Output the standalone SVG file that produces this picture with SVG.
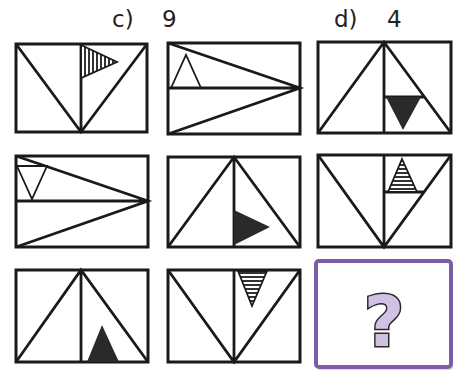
<svg xmlns="http://www.w3.org/2000/svg" width="458" height="371" viewBox="0 0 458 371">
<style>
.f{fill:#fff;stroke:#1a1a1a;stroke-width:3}
.l{fill:none;stroke:#1a1a1a;stroke-width:2.8;stroke-linejoin:miter}
.t{stroke:#1a1a1a;stroke-width:1.8;stroke-linejoin:miter}
.solid{fill:#2a2a2a}
.lbl{font-family:"DejaVu Sans","Liberation Sans",sans-serif;font-size:23px;fill:#222}
</style>
<defs>
<pattern id="vh" width="4" height="4" patternUnits="userSpaceOnUse"><rect width="4" height="4" fill="#fff"/><rect width="2" height="4" fill="#333"/></pattern>
<pattern id="hh" width="4" height="4" patternUnits="userSpaceOnUse"><rect width="4" height="4" fill="#fff"/><rect width="4" height="2" fill="#333"/></pattern>
</defs>
<rect width="458" height="371" fill="#fff"/>
<g id="labels">
<text class="lbl" x="112" y="27">c)</text>
<text class="lbl" x="162" y="27">9</text>
<text class="lbl" x="334" y="27">d)</text>
<text class="lbl" x="387" y="27">4</text>
</g>
<g id="p1">
<rect class="f" x="16" y="44" width="131" height="88"/>
<path class="l" d="M81 44V132M16 44L81 132L147 44"/>
<path class="t" fill="url(#vh)" d="M81 45L117 62L81 78Z"/>
</g>
<g id="p2">
<rect class="f" x="168" y="43" width="132" height="91"/>
<path class="l" d="M168 88H300M168 43L300 88L168 134"/>
<path class="t" fill="none" d="M171 88L186 55L201 88"/>
</g>
<g id="p3">
<rect class="f" x="318" y="42" width="133" height="91"/>
<path class="l" d="M384 42V133M318 133L384 42L451 133M384 97H424"/>
<path class="solid" d="M386 97L421 97L403 130Z"/>
</g>
<g id="p4">
<rect class="f" x="16" y="156" width="132" height="91"/>
<path class="l" d="M16 201H148M16 156L148 201L16 247"/>
<path class="t" fill="none" d="M17 166H47L32 199Z"/>
</g>
<g id="p5">
<rect class="f" x="168" y="157" width="132" height="90"/>
<path class="l" d="M234 157V247M168 247L234 157L300 247"/>
<path class="solid" d="M234 210L270 227L234 245Z"/>
</g>
<g id="p6">
<rect class="f" x="318" y="155" width="133" height="92"/>
<path class="l" d="M384 155V247M318 155L384 247L451 155M384 192H424"/>
<path class="t" fill="url(#hh)" d="M402 159L417 192L388 192Z"/>
</g>
<g id="p7">
<rect class="f" x="16" y="270" width="132" height="92"/>
<path class="l" d="M81 270V362M16 362L81 270L148 362"/>
<path class="solid" d="M87 362L102 325L119 362Z"/>
</g>
<g id="p8">
<rect class="f" x="168" y="270" width="132" height="92"/>
<path class="l" d="M234 270V362M168 270L234 362L300 270"/>
<path class="t" fill="url(#hh)" d="M238 271L267 271L252 306Z"/>
</g>
<g id="answer">
<rect x="317" y="262" width="136" height="108" rx="3" fill="#999" opacity="0.35"/>
<rect x="316" y="261" width="135" height="106" rx="3" fill="#fff" stroke="#7b5ea7" stroke-width="4"/>
<text x="384" y="346" text-anchor="middle" font-family="DejaVu Sans,sans-serif" font-weight="bold" font-size="70" fill="#cfc2e2" stroke="#2a2a2a" stroke-width="3" paint-order="stroke">?</text>
</g>
</svg>
